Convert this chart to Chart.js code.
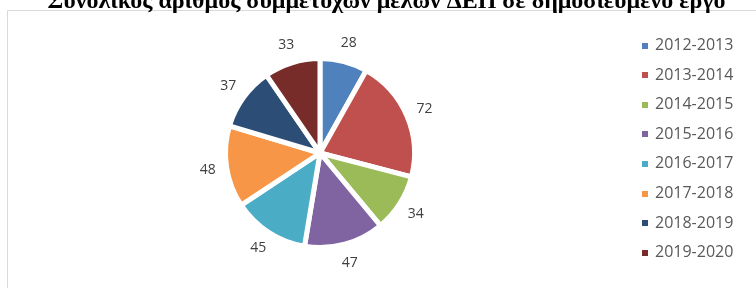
<!DOCTYPE html>
<html>
<head>
<meta charset="utf-8">
<script src="https://cdn.jsdelivr.net/npm/chart.js@4/dist/chart.umd.min.js"></script>
<style>
    html, body { margin: 0; padding: 0; background: #fff; }
    #wrap { width: 756px; height: 288px; position: relative; }
</style>
</head>
<body>
<div id="wrap"><canvas id="pieChart"></canvas></div>
<script>
const chartTitle = 'Συνολικός αριθμός συμμετοχών μελών ΔΕΠ σε δημοσιευμένο έργο';
const years = ['2012-2013', '2013-2014', '2014-2015', '2015-2016', '2016-2017', '2017-2018', '2018-2019', '2019-2020'];
const participations = [28, 72, 34, 47, 45, 48, 37, 33];
const sliceColors = ['#4F81BD', '#C0504D', '#9BBB59', '#8064A2', '#4BACC6', '#F79646', '#2C4D75', '#772C2A'];

// frame, title, value labels and legend drawn by hand
const decorations = {
    id: 'decorations',
    beforeDraw(chart) {
        const ctx = chart.ctx;
        ctx.save();
        ctx.fillStyle = '#fff';
        ctx.fillRect(0, 0, chart.width, chart.height);
        ctx.strokeStyle = '#D9D9D9';
        ctx.lineWidth = 1;
        ctx.beginPath();
        ctx.moveTo(7.5, chart.height);
        ctx.lineTo(7.5, 10.5);
        ctx.lineTo(chart.width, 10.5);
        ctx.stroke();
        ctx.restore();
    },
    afterDraw(chart) {
        const ctx = chart.ctx;
        ctx.save();

        // title, clipped at the top like the original; sized to span ~677px
        ctx.fillStyle = '#000';
        ctx.font = 'bold 22px "Liberation Serif"';
        const size = 22 * 677 / ctx.measureText(chartTitle).width;
        ctx.font = 'bold ' + size.toFixed(1) + 'px "Liberation Serif"';
        ctx.textAlign = 'center';
        ctx.textBaseline = 'alphabetic';
        ctx.fillText(chartTitle, 386.5, 8);

        // value labels outside each slice
        ctx.font = '14px "Open Sans"';
        ctx.fillStyle = '#404040';
        ctx.textBaseline = 'middle';
        const meta = chart.getDatasetMeta(0);
        meta.data.forEach((arc, i) => {
            const p = arc.getProps(['x', 'y', 'startAngle', 'endAngle', 'outerRadius'], true);
            const mid = (p.startAngle + p.endAngle) / 2;
            const r = p.outerRadius + 19;
            ctx.fillText(String(participations[i]), p.x + Math.cos(mid) * r, p.y + Math.sin(mid) * r);
        });

        // legend
        ctx.font = '16px "Open Sans"';
        ctx.textAlign = 'left';
        years.forEach((label, i) => {
            const y = 45.5 + i * 29.6;
            ctx.fillStyle = sliceColors[i];
            ctx.fillRect(642, Math.round(y) - 3, 6, 6);
            ctx.fillStyle = '#595959';
            ctx.fillText(label, 655, y);
        });
        ctx.restore();
    }
};

const ctx = document.getElementById('pieChart').getContext('2d');
new Chart(ctx, {
    type: 'pie',
    data: {
        labels: years,
        datasets: [{
            data: participations,
            backgroundColor: sliceColors,
            borderColor: '#fff',
            borderWidth: 5
        }]
    },
    options: {
        responsive: true,
        maintainAspectRatio: false,
        animation: false,
        layout: {
            padding: { top: 56, bottom: 38, left: 223, right: 339 }
        },
        plugins: {
            legend: { display: false },
            title: { display: false },
            tooltip: { enabled: false }
        }
    },
    plugins: [decorations]
});
</script>
</body>
</html>
